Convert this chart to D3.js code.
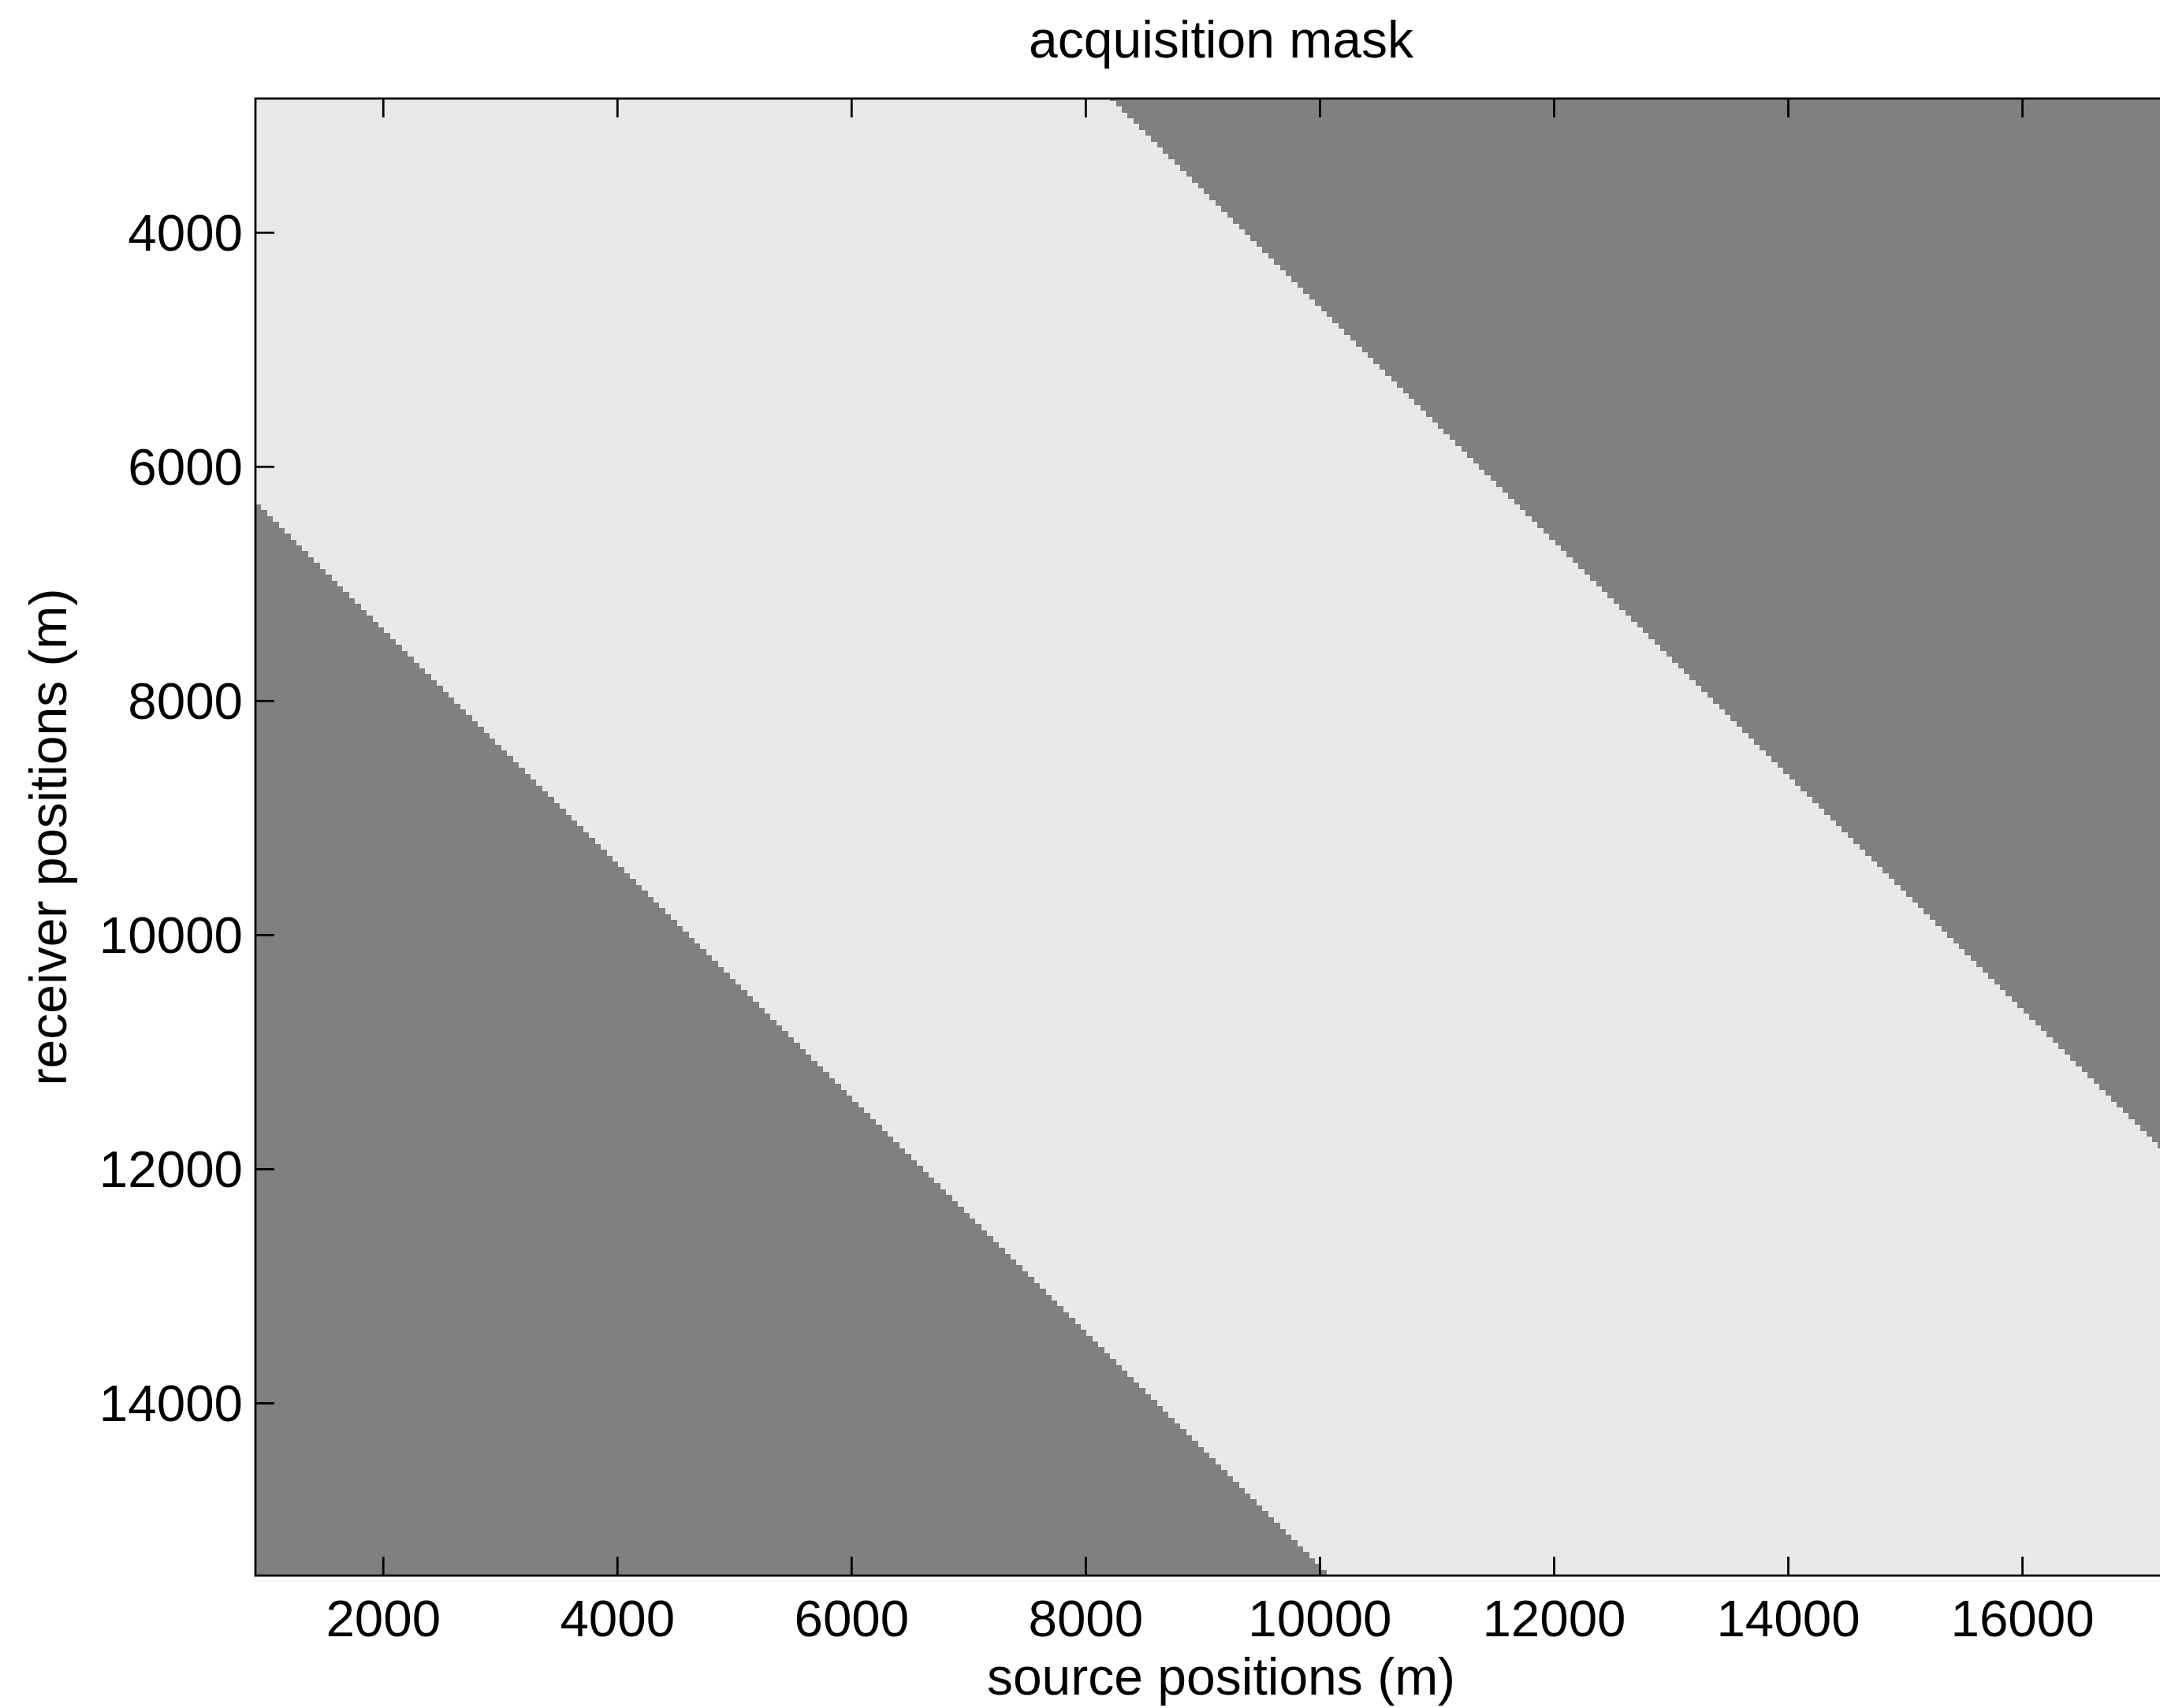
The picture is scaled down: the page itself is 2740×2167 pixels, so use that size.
<!DOCTYPE html>
<html>
<head>
<meta charset="utf-8">
<script src="https://cdn.jsdelivr.net/npm/d3@7"></script>
<style>
  html, body { margin: 0; padding: 0; background: #ffffff; }
  svg { display: block; }
  text { font-family: "Liberation Sans", Arial, Helvetica, sans-serif; fill: #000; }
</style>
</head>
<body>
<svg id="chart" width="2740" height="2167"></svg>
<script>
// ---------- data ----------
const title = "acquisition mask";
const xLabel = "source positions (m)";
const yLabel = "receiver positions (m)";

// grid of the mask image (cell centres, metres)
const sourceFirst = 936;      // first source position
const sourceStep = 50;        // source spacing
const sourceCount = 330;      // number of sources
const receiverFirst = 2850;   // first receiver position
const receiverStep = 50;      // receiver spacing
const receiverCount = 253;    // number of receivers
const maxOffset = 5375;       // acquired where |source - receiver| <= maxOffset

// axis limits (metres)
const xDomain = [911, 17407];
const yDomain = [2857, 15475];

const xTicks = [2000, 4000, 6000, 8000, 10000, 12000, 14000, 16000];
const yTicks = [4000, 6000, 8000, 10000, 12000, 14000];

// mask values: 1 = acquired (light), 0 = not acquired (dark)
const maskColors = { 1: "#e8e8e8", 0: "#808080" };

// ---------- layout ----------
const plot = { left: 324, top: 125, right: 2774, bottom: 1999 };

const svg = d3.select("#chart");

const x = d3.scaleLinear().domain(xDomain).range([plot.left, plot.right]);
const y = d3.scaleLinear().domain(yDomain).range([plot.top, plot.bottom]);

const sources = d3.range(sourceCount).map(i => sourceFirst + i * sourceStep);
const receivers = d3.range(receiverCount).map(j => receiverFirst + j * receiverStep);

svg.append("defs").append("clipPath").attr("id", "plotClip")
  .append("rect")
  .attr("x", plot.left).attr("y", plot.top)
  .attr("width", plot.right - plot.left).attr("height", plot.bottom - plot.top);

const img = svg.append("g").attr("clip-path", "url(#plotClip)")
  .attr("shape-rendering", "crispEdges");

// build run-length spans per receiver row
const spans = [];
receivers.forEach(r => {
  let start = 0;
  const val = s => (Math.abs(s - r) <= maxOffset ? 1 : 0);
  let cur = val(sources[0]);
  for (let i = 1; i <= sources.length; i++) {
    const v = i < sources.length ? val(sources[i]) : -1;
    if (v !== cur) {
      spans.push({ r, s0: sources[start], s1: sources[i - 1], v: cur });
      start = i; cur = v;
    }
  }
});

img.selectAll("rect.cell").data(spans).join("rect")
  .attr("class", "cell")
  .attr("x", d => Math.round(x(d.s0 - sourceStep / 2)))
  .attr("width", d => Math.round(x(d.s1 + sourceStep / 2)) - Math.round(x(d.s0 - sourceStep / 2)))
  .attr("y", d => Math.round(y(d.r - receiverStep / 2)))
  .attr("height", d => Math.round(y(d.r + receiverStep / 2)) - Math.round(y(d.r - receiverStep / 2)))
  .attr("fill", d => maskColors[d.v]);

// ---------- axes ----------
const tickLen = 24;
const tickFont = 65.5;
const labelFont = 66;
const axisColor = "#000";
const sw = 2.8;

// box
svg.append("rect")
  .attr("x", plot.left).attr("y", plot.top)
  .attr("width", plot.right - plot.left).attr("height", plot.bottom - plot.top)
  .attr("fill", "none").attr("stroke", axisColor).attr("stroke-width", sw);

const xAxisBottom = d3.axisBottom(x).tickValues(xTicks).tickSizeInner(-tickLen).tickSizeOuter(0)
  .tickFormat(d3.format("d"));
const gxb = svg.append("g").attr("transform", `translate(0,${plot.bottom})`).call(xAxisBottom);
gxb.select(".domain").remove();
gxb.selectAll(".tick line").attr("stroke", axisColor).attr("stroke-width", sw);
gxb.selectAll(".tick text").attr("font-size", tickFont).attr("fill", "#000")
  .attr("dy", null).attr("y", 77);

const xAxisTop = d3.axisTop(x).tickValues(xTicks).tickSizeInner(-tickLen).tickSizeOuter(0).tickFormat("");
const gxt = svg.append("g").attr("transform", `translate(0,${plot.top})`).call(xAxisTop);
gxt.select(".domain").remove();
gxt.selectAll(".tick line").attr("stroke", axisColor).attr("stroke-width", sw);

const yAxisLeft = d3.axisLeft(y).tickValues(yTicks).tickSizeInner(-tickLen).tickSizeOuter(0)
  .tickFormat(d3.format("d"));
const gyl = svg.append("g").attr("transform", `translate(${plot.left},0)`).call(yAxisLeft);
gyl.select(".domain").remove();
gyl.selectAll(".tick line").attr("stroke", axisColor).attr("stroke-width", sw);
gyl.selectAll(".tick text").attr("font-size", tickFont).attr("fill", "#000")
  .attr("x", -16).attr("dy", null).attr("y", 23);

const yAxisRight = d3.axisRight(y).tickValues(yTicks).tickSizeInner(-tickLen).tickSizeOuter(0).tickFormat("");
const gyr = svg.append("g").attr("transform", `translate(${plot.right},0)`).call(yAxisRight);
gyr.select(".domain").remove();
gyr.selectAll(".tick line").attr("stroke", axisColor).attr("stroke-width", sw);

// ---------- labels ----------
const cx = (plot.left + plot.right) / 2;
svg.append("text").attr("x", cx).attr("y", 73)
  .attr("text-anchor", "middle").attr("font-size", labelFont).text(title);

svg.append("text").attr("x", cx).attr("y", 2150)
  .attr("text-anchor", "middle").attr("font-size", labelFont).text(xLabel);

svg.append("text")
  .attr("transform", `translate(84,${(plot.top + plot.bottom) / 2}) rotate(-90)`)
  .attr("text-anchor", "middle").attr("font-size", labelFont).text(yLabel);
</script>
</body>
</html>
